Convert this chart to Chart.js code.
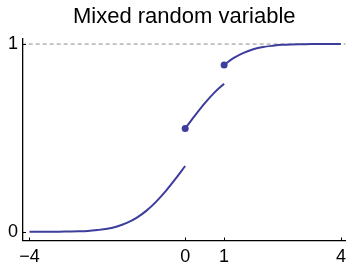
<!DOCTYPE html>
<html>
<head>
<meta charset="utf-8">
<script src="https://cdn.jsdelivr.net/npm/chart.js@4"></script>
<style>
html,body{margin:0;padding:0;background:#fff;}
#c{display:block;}
</style>
</head>
<body>
<canvas id="c" width="352" height="265"></canvas>
<script>
// Data
const titleText = "Mixed random variable";
const xTickValues = [-4, 0, 1, 4];
const yTickValues = [0, 1];

const leftX = [-4, -3.75, -3.5, -3.25, -3, -2.75, -2.5, -2.25, -2, -1.75, -1.5, -1.25, -1, -0.75, -0.5, -0.25, 0];
const leftY = [0, 0, 0, 0, 0.001, 0.002, 0.004, 0.009, 0.016, 0.028, 0.047, 0.074, 0.111, 0.159, 0.216, 0.281, 0.35];

const midX = [0, 0.25, 0.5, 0.75, 1];
const midY = [0.55, 0.619, 0.684, 0.741, 0.789];

const rightX = [1, 1.25, 1.5, 1.75, 2, 2.25, 2.5, 2.75, 3, 3.25, 3.5, 3.75, 4];
const rightY = [0.889, 0.926, 0.953, 0.972, 0.984, 0.991, 0.996, 0.998, 0.999, 1, 1, 1, 1];

const jumpX = [0, 1];
const jumpY = [0.55, 0.889];

const refLineX = [-4.2, 4.2];
const refLineY = [1, 1];

const X_MIN = -4.166, X_MAX = 4.118;
const Y_MIN = -0.047, Y_MAX = 1.027;

const curveColor = '#3d3d9c';

function pts(xs, ys){ return xs.map((x,i)=>({x:x, y:ys[i]})); }

const innerTicks = {
  id: 'innerTicks',
  afterDraw(chart){
    const ctx = chart.ctx, xs = chart.scales.x, ys = chart.scales.y, a = chart.chartArea;
    ctx.save();
    ctx.strokeStyle = '#000';
    ctx.lineWidth = 1;
    ctx.beginPath();
    xTickValues.forEach(v=>{
      const px = Math.round(xs.getPixelForValue(v)) + 0.5;
      ctx.moveTo(px, a.bottom);
      ctx.lineTo(px, a.bottom - 3);
    });
    yTickValues.forEach(v=>{
      const py = Math.round(ys.getPixelForValue(v)) + 0.5;
      ctx.moveTo(a.left, py);
      ctx.lineTo(a.left + 3, py);
    });
    ctx.stroke();
    ctx.restore();
  }
};

new Chart(document.getElementById('c'), {
  type: 'line',
  data: {
    datasets: [
      { data: pts(refLineX, refLineY), borderColor: '#8c8c8c', borderWidth: 1, borderDash: [4,3], pointRadius: 0, order: 5 },
      { data: pts(leftX, leftY), borderColor: curveColor, borderWidth: 2, pointRadius: 0, cubicInterpolationMode: 'monotone', order: 2 },
      { data: pts(midX, midY), borderColor: curveColor, borderWidth: 2, pointRadius: 0, cubicInterpolationMode: 'monotone', order: 2 },
      { data: pts(rightX, rightY), borderColor: curveColor, borderWidth: 2, pointRadius: 0, cubicInterpolationMode: 'monotone', order: 2 },
      { data: pts(jumpX, jumpY), showLine: false, pointRadius: 3.5, pointBackgroundColor: curveColor, pointBorderColor: curveColor, pointBorderWidth: 0, order: 1 }
    ]
  },
  options: {
    responsive: false,
    animation: false,
    devicePixelRatio: 1,
    layout: { padding: 0 },
    plugins: {
      legend: { display: false },
      tooltip: { enabled: false },
      title: {
        display: true,
        text: titleText,
        fullSize: false,
        color: '#000',
        font: { family: '"Liberation Sans", Arial, sans-serif', size: 22, weight: 'normal', lineHeight: 1.2 },
        padding: { top: 4, bottom: 8.6 }
      }
    },
    scales: {
      x: {
        type: 'linear',
        min: X_MIN, max: X_MAX,
        afterBuildTicks(s){ s.ticks = xTickValues.map(v=>({value:v})); },
        afterFit(s){ s.height = 24.5; },
        grid: { display: false, drawTicks: false },
        border: { display: true, color: '#000', width: 1.3 },
        ticks: {
          color: '#000', padding: 6, maxRotation: 0, autoSkip: false,
          font: { family: '"Liberation Sans", Arial, sans-serif', size: 18 },
          callback: v => String(v).replace('-', '\u2212')
        }
      },
      y: {
        type: 'linear',
        min: Y_MIN, max: Y_MAX,
        afterBuildTicks(s){ s.ticks = yTickValues.map(v=>({value:v})); },
        afterFit(s){ s.width = 23; },
        grid: { display: false, drawTicks: false },
        border: { display: true, color: '#000', width: 1.3 },
        ticks: {
          color: '#000', padding: 5, autoSkip: false,
          font: { family: '"Liberation Sans", Arial, sans-serif', size: 18 },
          callback: v => String(v)
        }
      }
    }
  },
  plugins: [innerTicks]
});
</script>
</body>
</html>
